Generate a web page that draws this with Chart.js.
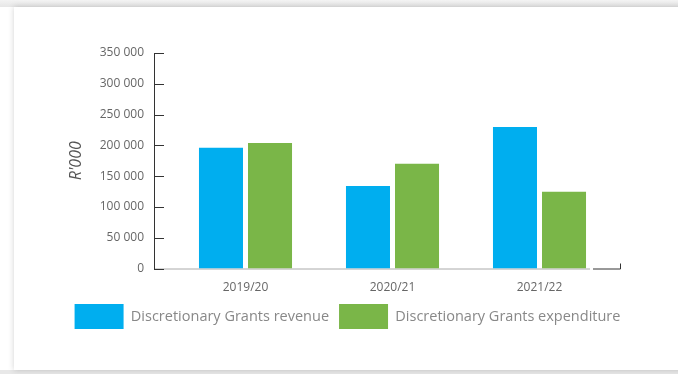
<!DOCTYPE html>
<html>
<head>
<meta charset="utf-8">
<script src="https://cdn.jsdelivr.net/npm/chart.js@4.4.1/dist/chart.umd.min.js"></script>
<style>
  html, body { margin: 0; padding: 0; background: #f1f1f1; }
  #wrap { position: relative; width: 678px; height: 374px; overflow: hidden; background: #ffffff; }
  #card {
    position: absolute; left: 14px; top: 7px; width: 720px; height: 363px;
    background: #fff; box-shadow: 0 0 6px rgba(0,0,0,0.18);
  }
  #top { position: absolute; left: 0; top: 0; width: 678px; height: 7px; background: linear-gradient(#f3f3f3, #e6e6e6); }
  #bot { position: absolute; left: 0; top: 370px; width: 678px; height: 4px; background: #e8e8e8; }
  canvas { position: absolute; left: 0; top: 0; }
</style>
</head>
<body>
<div id="wrap">
  <div id="top"></div>
  <div id="bot"></div>
  <div id="card"></div>
  <canvas id="chart" width="678" height="374"></canvas>
</div>
<script>
Chart.defaults.font.family = "'Open Sans', sans-serif";
Chart.defaults.color = '#666666';

const years = ['2019/20', '2020/21', '2021/22'];
const revenue = [196000, 134000, 230000];
const expenditure = [204000, 170000, 124500];
const yTicks = [0, 50000, 100000, 150000, 200000, 250000, 300000, 350000];

const fmt = v => v.toLocaleString('en-US').replace(/,/g, ' ');

// axis lines drawn by hand: y axis sits left of the bar area, x axis ends with a dark stub
const axisPlugin = {
    id: 'axisLines',
    afterLayout(chart) {
        // legend sits a bit right of the plot centre
        chart.legend.left += 26;
        chart.legend.right += 26;
    },
    beforeDatasetsDraw(chart) {
        const { ctx, chartArea, scales } = chart;
        const y = scales.y;
        const axisX = chartArea.left - 18;
        const base = y.getPixelForValue(0);
        ctx.save();
        ctx.lineWidth = 1;
        ctx.strokeStyle = '#aaaaaa';
        ctx.beginPath();
        ctx.moveTo(axisX, base + 0.5);
        ctx.lineTo(chartArea.right - 23, base + 0.5);
        ctx.stroke();

        ctx.strokeStyle = '#333333';
        ctx.beginPath();
        ctx.moveTo(axisX + 0.5, y.getPixelForValue(yTicks[yTicks.length - 1]));
        ctx.lineTo(axisX + 0.5, base + 1);
        yTicks.forEach(t => {
            const py = Math.round(y.getPixelForValue(t)) + 0.5;
            ctx.moveTo(axisX, py);
            ctx.lineTo(axisX + 10, py);
        });
        ctx.moveTo(chartArea.right - 20, base + 0.5);
        ctx.lineTo(chartArea.right + 7.5, base + 0.5);
        ctx.lineTo(chartArea.right + 7.5, base - 5);
        ctx.stroke();
        ctx.restore();
    }
};

const ctx = document.getElementById('chart').getContext('2d');
new Chart(ctx, {
    type: 'bar',
    data: {
        labels: years,
        datasets: [{
            label: 'Discretionary Grants revenue',
            data: revenue,
            backgroundColor: '#00AEEF',
            categoryPercentage: 0.667,
            barPercentage: 0.898
        }, {
            label: 'Discretionary Grants expenditure',
            data: expenditure,
            backgroundColor: '#7AB648',
            categoryPercentage: 0.667,
            barPercentage: 0.898
        }]
    },
    options: {
        responsive: false,
        animation: false,
        layout: {
            padding: { left: 30, right: 65, top: 53, bottom: 35 }
        },
        plugins: {
            legend: {
                position: 'bottom',
                labels: {
                    boxWidth: 49,
                    boxHeight: 25,
                    padding: 10,
                    color: '#888888',
                    font: { size: 14.5 }
                }
            },
            tooltip: { enabled: false }
        },
        scales: {
            x: {
                grid: { display: false },
                border: { display: false },
                ticks: { font: { size: 12 }, color: '#666666', padding: 4 },
                afterFit: s => { s.height = 25.5; }
            },
            y: {
                min: 0,
                max: 350000,
                afterBuildTicks: s => { s.ticks = yTicks.map(v => ({ value: v })); },
                afterFit: s => { s.width = 142; },
                grid: { display: false, drawTicks: false },
                border: { display: false },
                ticks: {
                    font: { size: 12 },
                    color: '#666666',
                    padding: 28,
                    callback: v => fmt(v)
                },
                title: {
                    display: true,
                    text: "R'000",
                    color: '#555555',
                    font: { size: 16, style: 'italic' },
                    padding: { top: 37, bottom: 0 }
                }
            }
        }
    },
    plugins: [axisPlugin]
});
</script>
</body>
</html>
